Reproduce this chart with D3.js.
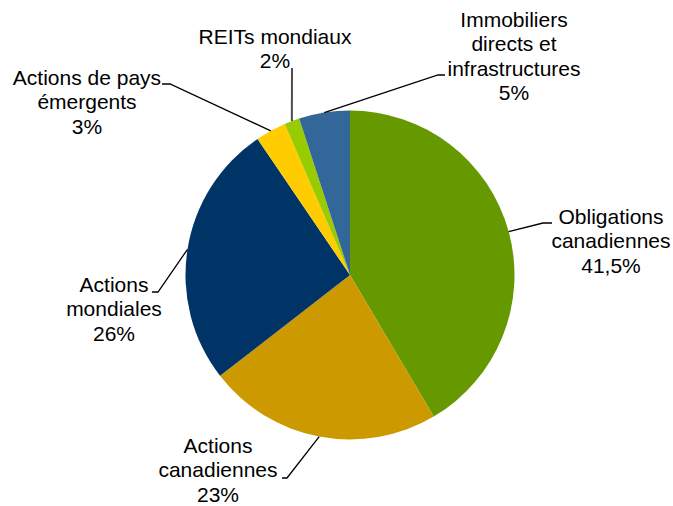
<!DOCTYPE html>
<html lang="fr">
<head>
<meta charset="utf-8">
<title>Répartition de l'actif</title>
<script src="https://d3js.org/d3.v7.min.js"></script>
<style>
  body, html { margin: 0; background: #fff; }
  svg { display: block; }
  .lbl { font-family: "Liberation Sans", Arial, sans-serif; font-size: 21px; fill: #000; }
</style>
</head>
<body>
<svg width="673" height="506"></svg>
<script>
// data
var categories = [
  "Obligations canadiennes",
  "Actions canadiennes",
  "Actions mondiales",
  "Actions de pays émergents",
  "REITs mondiaux",
  "Immobiliers directs et infrastructures"
];
var values = [41.5, 23, 26, 3, 1.5, 5];
var pctLabels = ["41,5%", "23%", "26%", "3%", "2%", "5%"];
var labelLines = [
  ["Obligations", "canadiennes"],
  ["Actions", "canadiennes"],
  ["Actions", "mondiales"],
  ["Actions de pays", "émergents"],
  ["REITs mondiaux"],
  ["Immobiliers", "directs et", "infrastructures"]
];
var colors = ["#669900", "#CC9900", "#003366", "#FFCC00", "#99CC00", "#336699"];

// label placement (center x, first baseline) and leader elbow / end
var layout = [
  {x: 611, y: 224, elbow: [543, 223], end: [552, 223]},
  {x: 218, y: 453, elbow: [287, 478], end: [282, 478]},
  {x: 114, y: 292, elbow: [158, 292], end: [152, 292]},
  {x: 87,  y: 85,  elbow: [170, 84],  end: [162, 84]},
  {x: 275, y: 44,  elbow: [292, 68],  end: [292, 68], grey: true},
  {x: 514, y: 27,  elbow: [438, 75],  end: [445, 75]}
];

var cx = 350, cy = 275, r = 164.5, lineH = 24.3;

var svg = d3.select("svg");
var g = svg.append("g").attr("transform", "translate(" + cx + "," + cy + ")");

var pie = d3.pie().sort(null).value(function(d) { return d; });
var arc = d3.arc().innerRadius(0).outerRadius(r);
var arcs = pie(values);

g.selectAll("path.slice")
  .data(arcs)
  .enter().append("path")
  .attr("class", "slice")
  .attr("d", arc)
  .attr("fill", function(d, i) { return colors[i]; })
  .append("title").text(function(d, i) { return categories[i]; });

// leader lines from slice mid angle on the rim
var leaders = svg.append("g");
arcs.forEach(function(d, i) {
  var a = (d.startAngle + d.endAngle) / 2;
  var p0 = [cx + r * Math.sin(a), cy - r * Math.cos(a)];
  var L = layout[i];
  leaders.append("path")
    .attr("d", d3.line()([p0, L.elbow, L.end]))
    .attr("fill", "none")
    .attr("stroke", L.grey ? "#4d4d4d" : "#000")
    .attr("stroke-width", L.grey ? 2 : 1.3);
});

// labels
var labels = svg.append("g");
labelLines.forEach(function(lines, i) {
  var L = layout[i];
  var t = labels.append("text")
    .attr("class", "lbl")
    .attr("text-anchor", "middle");
  lines.concat([pctLabels[i]]).forEach(function(s, k) {
    t.append("tspan")
      .attr("x", L.x)
      .attr("y", L.y + k * lineH)
      .text(s);
  });
});
</script>
</body>
</html>
